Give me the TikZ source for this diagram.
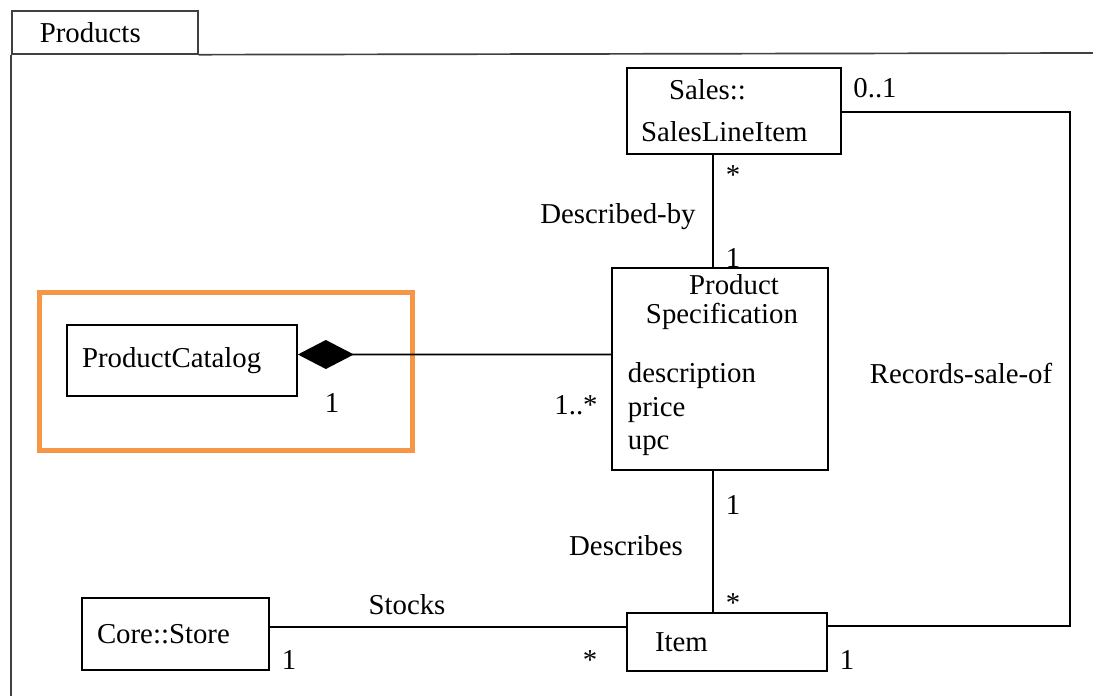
\documentclass[tikz,border=0pt]{standalone}
\usepackage{fontspec}
\setmainfont{Liberation Serif}
\usepackage{tikz}
\usetikzlibrary{arrows.meta}
\usetikzlibrary{positioning}
\definecolor{hilite}{RGB}{247,150,70}
\newcommand{\umlfont}{\fontsize{20.5pt}{24pt}\selectfont}
\tikzstyle{cls}=[rectangle,draw=black,align=left,inner xsep=0.375cm,inner ysep=0pt,font=\umlfont]
\tikzstyle{lbl}=[inner sep=0pt,font=\umlfont]
\tikzstyle{frame}=[draw=black!75]
\tikzstyle{comp}=[-{Diamond[length=1.4cm,width=0.725cm]}]
\tikzstyle{focusbox}=[rectangle,draw=hilite,line width=0.125cm,minimum width=9.3cm,minimum height=3.95cm]
\tikzset{every picture/.style={
    line width=1.2pt
  }
}

\begin{document}
\begin{tikzpicture}
      \useasboundingbox (0,0) rectangle (27.325,17.4);
      % package frame
      \node[cls,frame,anchor=north west,text width=3.25cm,inner xsep=0.7cm,minimum height=1.075cm] at (0.275,17.15) (tab) {Products};
      \coordinate (frameBL) at (0.275,0);
      \coordinate (frameTR) at (27.325,16.075);
      \draw[frame] (tab.south west) -- (frameBL);
      \draw[frame] (tab.south east) -- (frameTR);
      % classes
      \node[cls,text width=4.65cm,inner xsep=0.35cm,minimum height=2.15cm] at (18.35,14.625) (sli) {\hspace*{0.7cm}Sales::\\[6pt]SalesLineItem};
      \node[cls,minimum width=5.4cm,minimum height=5.05cm] at (18.0,8.175) (ps) {};
      \node[lbl,align=center] at (18.05,9.84) (pstitle) {\hspace*{0.6cm}Product\\[-3.5pt]Specification};
      \node[lbl,align=left,anchor=west] at (15.675,7.17) (psattr) {description\\price\\upc};
      \node[cls,text width=5.0cm,minimum height=1.775cm] at (4.55,8.3875) (pc) {ProductCatalog};
      \node[cls,text width=3.925cm,minimum height=1.8cm] at (4.3875,1.55) (store) {Core::Store};
      \node[cls,text width=3.6cm,inner xsep=0.7cm,minimum height=1.45cm] at (18.175,1.35) (item) {Item};
      \node[focusbox] at (5.65,8.1) (focus) {};
      % associations
      \draw ([xshift=-0.525cm]sli.south) -- ([xshift=-0.175cm]ps.north);
      \draw ([xshift=-0.175cm]ps.south) -- ([xshift=-0.35cm]item.north);
      \draw[comp] ([yshift=0.3625cm]ps.west) -- ([yshift=0.15cm]pc.east);
      \draw ([yshift=0.175cm]store.east) -- ([yshift=0.375cm]item.west);
      \coordinate (rec) at (26.75,8);
      \draw ([yshift=-0.025cm]sli.east) -| (rec) |- ([yshift=0.4cm]item.east);
      % labels
      \node[lbl] at (21.875,15.2) (m01) {0..1};
      \node[lbl] at (18.325,13.03) (mslis) {*};
      \node[lbl] at (15.45,11.975) (descby) {Described-by};
      \node[lbl] at (18.325,10.95) (mpst) {1};
      \node[lbl] at (24.025,8.075) (recsale) {Records-sale-of};
      \node[lbl] at (8.3,7.325) (mpc) {1};
      \node[lbl] at (14.4,7.275) (mpsl) {1..*};
      \node[lbl] at (18.325,4.775) (mpsb) {1};
      \node[lbl] at (15.65,3.75) (describes) {Describes};
      \node[lbl] at (18.325,2.33) (mitemt) {*};
      \node[lbl] at (10.175,2.275) (stocks) {Stocks};
      \node[lbl] at (7.225,0.9) (mstore) {1};
      \node[lbl] at (14.75,0.9) (miteml) {*};
      \node[lbl] at (21.175,0.9) (mitemr) {1};
    \end{tikzpicture}
\end{document}
